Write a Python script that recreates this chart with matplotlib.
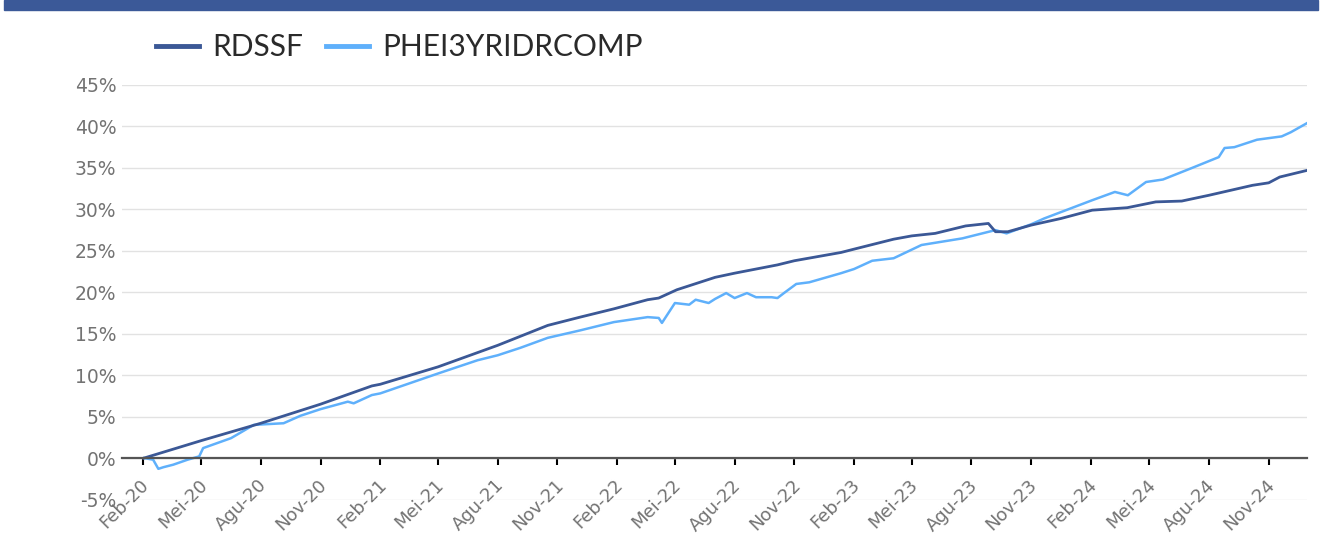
import matplotlib
matplotlib.use("Agg")
import matplotlib.pyplot as plt
import matplotlib.transforms as mtransforms
import pandas as pd
from matplotlib.patches import Rectangle
from matplotlib.ticker import FuncFormatter, MultipleLocator

# cumulative return (%)
rdssf_dates = ["2020-02-03", "2020-05-01", "2020-08-01", "2020-11-01", "2021-01-19",
               "2021-02-01", "2021-05-01", "2021-08-01", "2021-10-17", "2021-12-06",
               "2022-01-27", "2022-03-20", "2022-04-06", "2022-05-04", "2022-07-02",
               "2022-08-01", "2022-10-06", "2022-11-01", "2023-01-12", "2023-02-01",
               "2023-04-03", "2023-05-01", "2023-06-06", "2023-07-23", "2023-08-27",
               "2023-09-07", "2023-09-26", "2023-11-01", "2023-12-17", "2024-02-03",
               "2024-03-28", "2024-05-11", "2024-06-20", "2024-08-01", "2024-10-07",
               "2024-11-01", "2024-11-18", "2024-12-30"]
rdssf_values = [0.0, 2.1, 4.2, 6.5, 8.7,
                8.9, 11.0, 13.6, 16.0, 17.0,
                18.0, 19.1, 19.3, 20.3, 21.8,
                22.3, 23.3, 23.8, 24.8, 25.2,
                26.4, 26.8, 27.1, 28.0, 28.3,
                27.3, 27.3, 28.1, 28.9, 29.9,
                30.2, 30.9, 31.0, 31.7, 32.9,
                33.2, 33.9, 34.7]

phei_dates = ["2020-02-03", "2020-02-17", "2020-02-25", "2020-03-04", "2020-03-19",
              "2020-04-10", "2020-04-28", "2020-05-04", "2020-06-16", "2020-07-21",
              "2020-09-05", "2020-10-01", "2020-11-01", "2020-12-13", "2020-12-22",
              "2021-01-19", "2021-02-01", "2021-05-01", "2021-07-01", "2021-08-01",
              "2021-09-05", "2021-10-17", "2021-12-06", "2022-01-27", "2022-03-20",
              "2022-04-06", "2022-04-11", "2022-05-01", "2022-05-23", "2022-06-02",
              "2022-06-22", "2022-07-02", "2022-07-19", "2022-08-01", "2022-08-20",
              "2022-09-03", "2022-09-27", "2022-10-06", "2022-10-16", "2022-11-04",
              "2022-11-24", "2023-01-12", "2023-02-01", "2023-03-01", "2023-04-03",
              "2023-05-16", "2023-07-18", "2023-09-07", "2023-09-24", "2023-11-01",
              "2023-11-21", "2024-02-03", "2024-03-09", "2024-03-29", "2024-04-26",
              "2024-05-22", "2024-07-06", "2024-08-16", "2024-08-25", "2024-09-09",
              "2024-10-14", "2024-11-21", "2024-12-05", "2024-12-30"]
phei_values = [0.0, -0.2, -1.3, -1.1, -0.8,
               -0.2, 0.2, 1.2, 2.4, 4.0,
               4.2, 5.1, 5.9, 6.8, 6.6,
               7.6, 7.8, 10.2, 11.8, 12.4,
               13.3, 14.5, 15.4, 16.4, 17.0,
               16.9, 16.3, 18.7, 18.5, 19.1,
               18.7, 19.2, 19.9, 19.3, 19.9,
               19.4, 19.4, 19.3, 19.9, 21.0,
               21.2, 22.3, 22.8, 23.8, 24.1,
               25.7, 26.5, 27.5, 27.1, 28.2,
               28.9, 31.1, 32.1, 31.7, 33.3,
               33.6, 35.0, 36.3, 37.4, 37.5,
               38.4, 38.8, 39.3, 40.4]

series_names = ["RDSSF", "PHEI3YRIDRCOMP"]
series_colors = ["#3b5896", "#5fb0fb"]
month_names = {2: "Feb", 5: "Mei", 8: "Agu", 11: "Nov"}
tick_dates = pd.date_range("2020-02-01", "2024-11-01", freq="3MS")
tick_labels = [f"{month_names[d.month]}-{d.strftime('%y')}" for d in tick_dates]

plt.rcParams["font.family"] = ["DejaVu Sans"]

fig = plt.figure(figsize=(13.22, 5.49), dpi=100)
ax = fig.add_axes([122 / 1322, 1 - 499.5 / 549, (1307 - 122) / 1322, (499.5 - 85) / 549])

ax.plot(pd.to_datetime(rdssf_dates), rdssf_values, color=series_colors[0],
        linewidth=2.0, label=series_names[0], zorder=3)
ax.plot(pd.to_datetime(phei_dates), phei_values, color=series_colors[1],
        linewidth=1.8, label=series_names[1], zorder=2)

ax.set_xlim(pd.Timestamp("2019-12-31"), pd.Timestamp("2024-12-30"))
ax.set_ylim(-5, 45)
ax.yaxis.set_major_locator(MultipleLocator(5))
ax.yaxis.set_major_formatter(FuncFormatter(lambda v, p: f"{v:.0f}%"))
ax.grid(axis="y", color="#e2e2e2", linewidth=1, zorder=0)
ax.set_axisbelow(True)

for s in ["top", "right", "left"]:
    ax.spines[s].set_visible(False)
ax.spines["bottom"].set_position(("data", 0))
ax.spines["bottom"].set_color("#555555")
ax.spines["bottom"].set_linewidth(1.6)
ax.spines["bottom"].set_zorder(4)

ax.set_xticks(tick_dates)
ax.set_xticklabels(tick_labels, rotation=45, ha="right", rotation_mode="anchor")
ax.tick_params(axis="x", direction="out", length=5, width=1.5, color="black",
               labelsize=13, labelcolor="#737373", pad=8)
ax.tick_params(axis="y", length=0, labelsize=13.5, labelcolor="#737373", pad=4)
shift = mtransforms.ScaledTranslation(-3 / 100, 0, fig.dpi_scale_trans)
for lbl in ax.get_xticklabels():
    lbl.set_transform(lbl.get_transform() + shift)

fig.patches.append(Rectangle((4 / 1322, 1 - 10 / 549), 1314 / 1322, 10 / 549,
                             transform=fig.transFigure, color="#3b5998", zorder=0))

leg = fig.legend(loc="center left", bbox_to_anchor=(156 / 1322, 1 - 47 / 549), ncol=2,
                 frameon=False, borderpad=0, borderaxespad=0, handlelength=1.45,
                 handletextpad=0.45, columnspacing=0.75,
                 prop={"family": "Lato", "weight": "normal", "size": 21.5})
for line in leg.get_lines():
    line.set_linewidth(3.5)
for t in leg.get_texts():
    t.set_color("#2a2a2a")

fig.savefig("out.png", dpi=100)
